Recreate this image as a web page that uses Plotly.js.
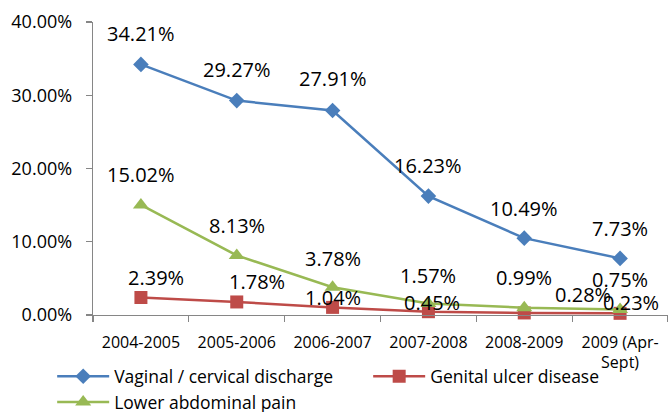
<!DOCTYPE html>
<html>
<head>
<meta charset="utf-8">
<script src="https://cdn.plot.ly/plotly-3.0.1.min.js"></script>
<style>html,body{margin:0;padding:0;background:#fff;}#chart{width:668px;height:412px;}</style>
</head>
<body>
<div id="chart"></div>
<script>
// ---- data ----
var categories = ["2004-2005", "2005-2006", "2006-2007", "2007-2008", "2008-2009", "2009 (Apr-<br>Sept)"];
var vaginalDischarge = [34.21, 29.27, 27.91, 16.23, 10.49, 7.73];
var genitalUlcer = [2.39, 1.78, 1.04, 0.45, 0.28, 0.23];
var lowerAbdominalPain = [15.02, 8.13, 3.78, 1.57, 0.99, 0.75];
var seriesNames = ["Vaginal / cervical discharge", "Genital ulcer disease", "Lower abdominal pain"];
var yTickValues = [0, 10, 20, 30, 40];
var yTickLabels = ["0.00%", "10.00%", "20.00%", "30.00%", "40.00%"];

// ---- styles ----
var FONT = "Open Sans, Liberation Sans, Arial, sans-serif";
var colors = ["#4a7ebb", "#be4b48", "#98b954"];
var symbols = ["diamond", "square", "triangle-up"];
var markerSizes = [12, 13, 14];
// label pixel offsets (label placement, styling only)
var labelShiftY = [[31,31,32,31,30,30],[20,20,10,9,18,11],[30,30,29,28,30,30]];
var labelShiftX = [[0,0,0,0,0,0],[15,20,0,4,59,11],[0,0,0,0,0,0]];

var seriesValues = [vaginalDischarge, genitalUlcer, lowerAbdominalPain];

var traces = seriesValues.map(function(vals, s) {
  return {
    type: "scatter", mode: "lines+markers",
    x: categories, y: vals, name: seriesNames[s],
    line: {color: colors[s], width: 2.5},
    marker: {color: colors[s], symbol: symbols[s], size: markerSizes[s]},
    cliponaxis: false, hoverinfo: "skip"
  };
});

var annotations = [];
seriesValues.forEach(function(vals, s) {
  vals.forEach(function(v, i) {
    annotations.push({
      x: categories[i], y: v, xref: "x", yref: "y",
      text: v.toFixed(2) + "%", showarrow: false,
      xanchor: "center", yanchor: "middle",
      xshift: labelShiftX[s][i], yshift: labelShiftY[s][i],
      font: {family: FONT, size: 20, color: "#000"}
    });
  });
});

var layout = {
  width: 668, height: 412,
  margin: {l: 93, r: 0, t: 22, b: 97, autoexpand: false},
  paper_bgcolor: "#fff", plot_bgcolor: "#fff",
  showlegend: true,
  font: {family: FONT, color: "#000"},
  xaxis: {
    type: "category", range: [-0.5, 5.5],
    showline: true, linecolor: "#868686", linewidth: 1.3,
    ticks: "outside", tickson: "boundaries", ticklen: 6, tickcolor: "#868686", tickwidth: 1.3,
    showgrid: false, zeroline: false,
    tickfont: {family: FONT, size: 16, color: "#000"},
    ticklabelstandoff: 12
  },
  yaxis: {
    range: [0, 40], tickmode: "array", tickvals: yTickValues, ticktext: yTickLabels,
    showline: true, linecolor: "#868686", linewidth: 1.3,
    ticks: "outside", ticklen: 6, tickcolor: "#868686", tickwidth: 1.3,
    showgrid: false, zeroline: false,
    tickfont: {family: FONT, size: 18, color: "#000"},
    ticklabelstandoff: 10
  },
  legend: {
    orientation: "h", x: -0.071, xanchor: "left", y: -0.148, yanchor: "top",
    font: {family: FONT, size: 17.5, color: "#000"},
    itemwidth: 52, entrywidth: 249, bgcolor: "rgba(0,0,0,0)", traceorder: "normal",
    borderwidth: 0
  },
  annotations: annotations
};

Plotly.newPlot("chart", traces, layout, {displayModeBar: false, staticPlot: true});
</script>
</body>
</html>
